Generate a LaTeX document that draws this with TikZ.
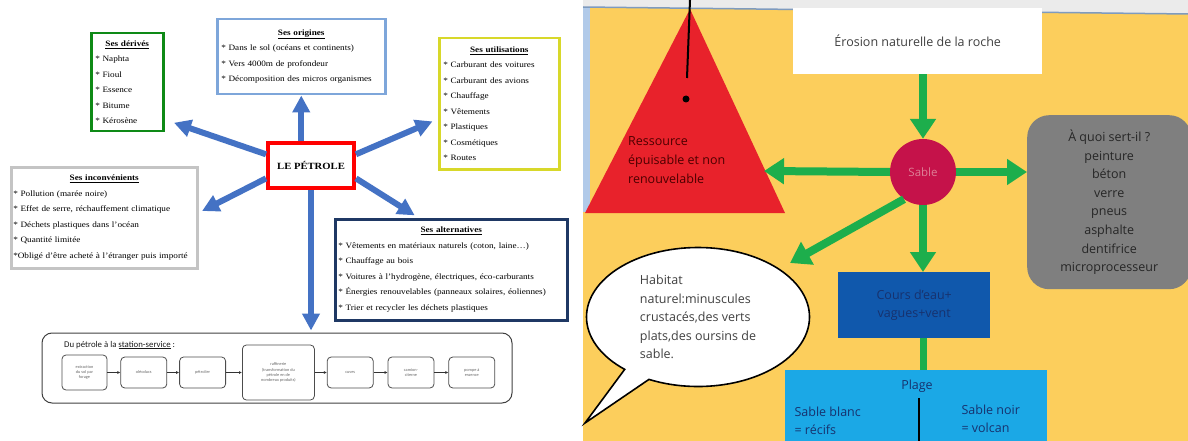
\documentclass[tikz,border=0pt]{standalone}
\usepackage{fontspec}
\usepackage{xcolor}
\usepackage{tikz}
\usetikzlibrary{arrows.meta,positioning,shapes.callouts}
\newfontfamily\lfont{Liberation Serif}[FakeStretch=1.12]
\newfontfamily\rfont{Open Sans}
\newfontfamily\cfont{Carlito}
\definecolor{pblue}{HTML}{4472C4}
\definecolor{pgreen}{HTML}{0E8A16}
\definecolor{psky}{HTML}{7EA6DA}
\definecolor{pyel}{HTML}{D8D82A}
\definecolor{pgray}{HTML}{C4C4C4}
\definecolor{pnavy}{HTML}{1F3864}
\definecolor{sand}{HTML}{FCCE5C}
\definecolor{sred}{HTML}{E8222B}
\definecolor{sgreen}{HTML}{1DAE4C}
\definecolor{scrim}{HTML}{C5124A}
\definecolor{sgray}{HTML}{7F7F7F}
\definecolor{sdblue}{HTML}{1058AC}
\definecolor{ssky}{HTML}{1BA8E6}
\definecolor{sink}{HTML}{17326E}
\newcommand{\boxtitle}[1]{\makebox[\hsize]{\textbf{\underline{#1}}}}

\begin{document}
\begin{tikzpicture}[x=1pt, y=-1pt,
  lbox/.style={draw, line width=2.5pt, anchor=north west, align=left, inner sep=3pt,
    font=\lfont\fontsize{8.2}{15.5}\selectfont},
  fbox/.style={draw=black!70, rounded corners=4pt, line width=0.8pt, align=center,
    minimum width=46, minimum height=31, text=black!60, font=\cfont\fontsize{4.3}{5.2}\selectfont},
  barr/.style={-{Triangle[length=17pt,width=17pt]}, pblue, line width=6pt},
  farr/.style={-{Latex[length=3pt,width=3pt]}, black!80, line width=0.6pt},
  garr/.style={-{Triangle[length=20pt,width=25pt]}, sgreen, line width=8pt},
  rtext/.style={font=\rfont\fontsize{12.5}{18.6}\selectfont}]
\useasboundingbox (0,0) rectangle (1188,441);

% gauche : le petrole
\node[lbox, draw=pgreen, minimum width=72, minimum height=98, text width=64] (derives) at (90,32)
  {\boxtitle{Ses dérivés}\\{*} Naphta\\{*} Fioul\\{*} Essence\\{*} Bitume\\{*} Kérosène};
\node[lbox, draw=psky, minimum width=168, minimum height=75, text width=160] (origines) at (216,18)
  {\boxtitle{Ses origines}\\{*} Dans le sol (océans et continents)\\{*} Vers 4000m de profondeur\\{*} Décomposition des micros organismes};
\node[lbox, draw=pyel, minimum width=120, minimum height=131, text width=112] (util) at (438,37)
  {\boxtitle{Ses utilisations}\\{*} Carburant des voitures\\{*} Carburant des avions\\{*} Chauffage\\{*} Vêtements\\{*} Plastiques\\{*} Cosmétiques\\{*} Routes};
\node[lbox, draw=pgray, inner sep=2pt, minimum width=186, minimum height=101, text width=182] (incon) at (10,166)
  {\boxtitle{Ses inconvénients}\\{*} Pollution (marée noire)\\{*} Effet de serre, réchauffement climatique\\{*} Déchets plastiques dans l’océan\\{*} Quantité limitée\\{*}Obligé d’être acheté à l’étranger puis importé};
\node[lbox, draw=pnavy, minimum width=232, minimum height=101, text width=226] (alter) at (334,218)
  {\boxtitle{Ses alternatives}\\{*} Vêtements en matériaux naturels (coton, laine…)\\{*} Chauffage au bois\\{*} Voitures à l’hydrogène, électriques, éco-carburants\\{*} Énergies renouvelables (panneaux solaires, éoliennes)\\{*} Trier et recycler les déchets plastiques};
\node[draw=red, line width=4pt, minimum width=86, minimum height=45,
  font=\lfont\bfseries\fontsize{9.5}{11}\selectfont] (petrole) at (311,165.5) {LE PÉTROLE};

\node[draw=black!75, line width=1pt, rounded corners=10pt, minimum width=470, minimum height=70] (flow) at (277,368) {};
\node[anchor=west, text=black!90, font=\cfont\fontsize{8.8}{10}\selectfont, inner sep=0pt] (ftitle) at (64,345)
  {Du pétrole à la \underline{station-service} :};
\node[fbox, minimum width=45, minimum height=35] (f1) at (84.5,372.5) {extraction\\du sol par\\forage};
\node[fbox, right=13pt of f1] (f2) {oléoducs};
\node[fbox, right=12pt of f2] (f3) {pétrolier};
\node[fbox, right=16pt of f3, minimum width=72, minimum height=55] (f4) {raffinerie\\(transformation du\\pétrole en de\\nombreux produits)};
\node[fbox, right=12pt of f4] (f5) {cuves};
\node[fbox, right=14pt of f5] (f6) {camion-\\citerne};
\node[fbox, right=14pt of f6] (f7) {pompe à\\essence};
\draw[farr] (f1) -- (f2);
\draw[farr] (f2) -- (f3);
\draw[farr] (f3) -- (f4);
\draw[farr] (f4) -- (f5);
\draw[farr] (f5) -- (f6);
\draw[farr] (f6) -- (f7);

\draw[barr, shorten >=10pt] (petrole.166) -- (derives.-45);
\draw[barr] (origines.south |- petrole.north) -- (origines.south);
\draw[barr, shorten >=6pt] (petrole.14) -- (util.194);
\draw[barr, shorten >=4pt] (petrole.196) -- (incon.3);
\draw[barr, shorten >=5pt] (petrole.-16) -- (alter.122);
\draw[barr, shorten >=2pt] (petrole.south) -- (petrole.south |- flow.north);

% droite : le sable
\fill[sand] (583,8) rectangle (1188,441);
\fill[black!8] (583,0) -- (1188,0) -- (1188,14) -- (583,7) -- cycle;
\draw[psky!70!gray, line width=1.5pt] (583,7) -- (1188,14);
\fill[psky!60] (583,8) rectangle (590,212);
\fill[sred] (690,9) -- (785,213) -- (585,213) -- cycle;
\draw[line width=2pt] (690,0) -- (687,78);
\fill (686,99) circle (3.5);
\node[rtext, anchor=west, align=left, text=red!30!black, inner sep=0pt] (ressource) at (628,160)
  {Ressource\\épuisable et non\\renouvelable};
\coordinate (triedge) at (764,171);

\node[fill=white, anchor=north west, minimum width=249, minimum height=66, rtext, text=black!75] (erosion) at (793,8)
  {Érosion naturelle de la roche};
\node[circle, fill=scrim, minimum size=66, text={rgb,255:red,222;green,128;blue,150},
  font=\rfont\fontsize{11.5}{13}\selectfont] (sable) at (923,172) {Sable};
\node[fill=sgray, rounded corners=22pt, anchor=north west, minimum width=164, minimum height=174,
  align=center, rtext, text=black!85] (usage) at (1027,115)
  {À quoi sert-il ?\\peinture\\béton\\verre\\pneus\\asphalte\\dentifrice\\microprocesseur};
\node[fill=sdblue, anchor=north west, minimum width=152, minimum height=66, align=center, rtext, text=sink] (cours) at (838,272)
  {Cours d’eau+\\vagues+vent};
\node[fill=ssky, anchor=north west, minimum width=262, minimum height=71] (plage) at (785,370) {};
\node[rtext, text=sink] (plagetxt) at (917,386) {Plage};
\node[rtext, text=sink, anchor=west, align=left] (blanc) at (791,421) {Sable blanc\\= récifs};
\node[rtext, text=sink, anchor=west, align=left] (noir) at (958,419) {Sable noir\\= volcan};
\draw[black, line width=2pt] (plagetxt.south) ++(2,2) -- (919,441);
\node[ellipse callout, draw=black, line width=1.6pt, fill=white, minimum width=223, minimum height=139,
  callout absolute pointer={(585,423)}, align=left, rtext, text=black!75] (bubble) at (698,317)
  {Habitat\\naturel:minuscules\\crustacés,des verts\\plats,des oursins de\\sable.};
\coordinate (bubtip) at (790,263);

\draw[garr] (sable.north |- erosion.south) -- (sable.north);
\draw[garr] (sable.west) -- (triedge);
\draw[garr] (sable.east) -- (usage.west |- sable.east);
\draw[garr] (sable.south) -- (cours.north -| sable.south);
\draw[garr] (sable.235) -- (bubtip);
\draw[sgreen, line width=7pt] (cours.south -| sable.south) -- (plage.north -| sable.south);
\end{tikzpicture}
\end{document}
